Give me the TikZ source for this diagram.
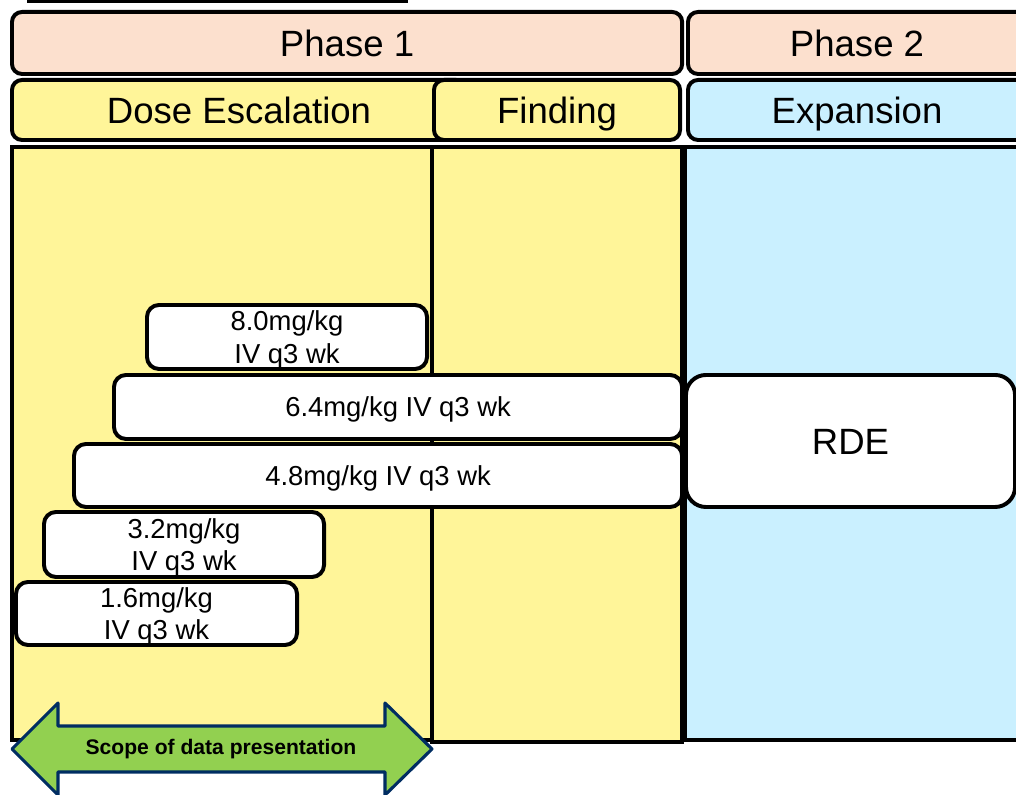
\documentclass[tikz,border=0pt]{standalone}
\usepackage{fontspec}
\setmainfont{Liberation Sans}
\usepackage{tikz}
\usetikzlibrary{positioning}
\definecolor{phpeach}{RGB}{252, 224, 206}
\definecolor{phyellow}{RGB}{255, 245, 153}
\definecolor{phblue}{RGB}{202, 240, 255}
\definecolor{scgreen}{RGB}{146, 208, 80}
\definecolor{scnavy}{RGB}{0, 45, 98}
\newcommand{\mDose}[1]{#1mg/kg}
\newcommand{\mSched}{IV q3 wk}

\begin{document}
\begin{tikzpicture}[%
    x=0.025cm, y=-0.025cm,   % one unit is one pixel of the sketch
    line width=2.8pt,        % thick outlines everywhere
    ]
% -------------------------------------------------
% Box styles
\tikzset{
  base/.style={draw=black, anchor=north west, inner sep=0pt, align=center},
  hdrbox/.style={base, rounded corners=0.25cm, minimum height=1.55cm,
    font=\fontsize{26}{30}\selectfont, text height=18.6pt, text depth=0pt},
  phasebox/.style={hdrbox, fill=phpeach},
  escbox/.style={hdrbox, fill=phyellow, minimum height=1.5cm},
  expbox/.style={hdrbox, fill=phblue, minimum height=1.5cm},
  colbox/.style={base, rectangle},
  dosebox/.style={base, fill=white, rounded corners=0.3cm,
    font=\fontsize{19.5}{23}\selectfont, text depth=0pt},
  rdebox/.style={base, fill=white, rounded corners=0.5cm,
    font=\fontsize{26}{30}\selectfont, text height=18.6pt, text depth=0pt},
  scope/.style={draw=scnavy, fill=scgreen, line width=2.2pt, line join=round},
  txt/.style={draw=none, fill=none, inner sep=0pt}
  }
\useasboundingbox (0,0) rectangle (1016,794);
% -------------------------------------------------
% Title underline, cut off at the top
\draw [line width=2.4pt] (27,1) -- (408,1);
% -------------------------------------------------
% Phases
\node [phasebox, minimum width=16.75cm] (ph1) at (10,10) {Phase 1};
\node [phasebox, minimum width=8.45cm] (ph2) at (686,10) {Phase 2};

\node [escbox, minimum width=11.35cm] (esc) at (10,78) {Dose Escalation};
\node [escbox, minimum width=6.15cm] (fnd) at (432,78) {Finding};
\node [expbox, minimum width=8.45cm] (exp) at (686,78) {Expansion};
% -------------------------------------------------
% Columns
\node [colbox, fill=phyellow, minimum width=10.5cm, minimum height=14.825cm] (c1) at (10,145) {};
\node [colbox, fill=phyellow, minimum width=6.25cm, minimum height=14.875cm] (c2) at (430,145) {};
\node [colbox, fill=phblue, minimum width=8.675cm, minimum height=14.825cm] (c3) at (683,145) {};
% -------------------------------------------------
% Dose levels
\node [dosebox, minimum width=7cm, minimum height=1.6cm] (d5) at (145,303) {\mDose{8.0}\\ \mSched};
\node [dosebox, minimum width=14.2cm, minimum height=1.6cm] (d4) at (112,373) {\mDose{6.4} \mSched};
\node [dosebox, minimum width=15.2cm, minimum height=1.575cm] (d3) at (72,442) {\mDose{4.8} \mSched};
\node [dosebox, minimum width=7cm, minimum height=1.625cm] (d2) at (42,510) {\mDose{3.2}\\ \mSched};
\node [dosebox, minimum width=7.025cm, minimum height=1.575cm] (d1) at (14,580) {\mDose{1.6}\\ \mSched};

\node [rdebox, minimum width=8.225cm, minimum height=3.3cm] (rde) at (684,373) {RDE};
% -------------------------------------------------
% Scope arrow
\draw [scope] (12,749) -- (58,703) -- (58,726) -- (385,726) -- (385,703)
  -- (432,749) -- (385,795) -- (385,772) -- (58,772) -- (58,795) -- cycle;
\node [txt, font=\fontsize{15}{18}\selectfont\bfseries] (scp) at (221,749) {Scope of data presentation};
% -------------------------------------------------
\end{tikzpicture}
\end{document}
